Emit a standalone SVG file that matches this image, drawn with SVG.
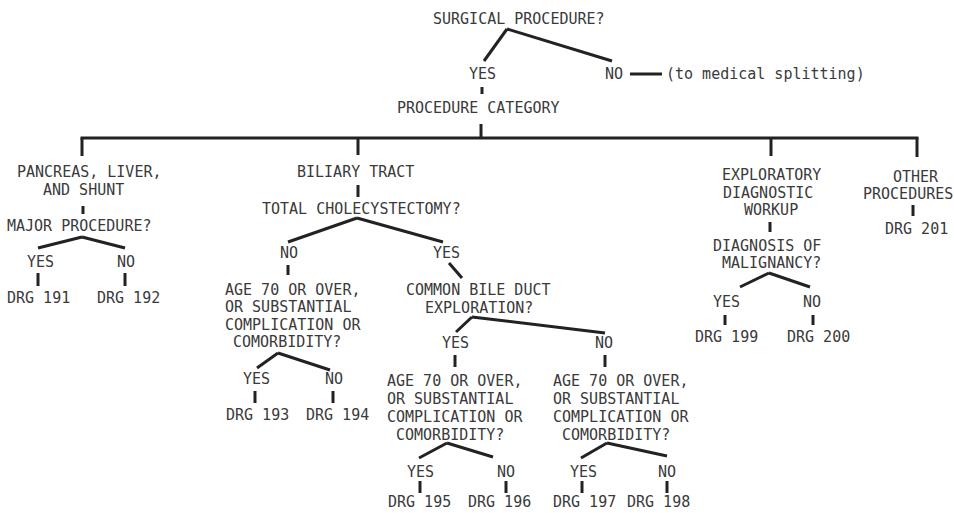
<svg xmlns="http://www.w3.org/2000/svg" width="954" height="513" viewBox="0 0 954 513">
<style>
text{font-family:"DejaVu Sans Mono","Liberation Mono",monospace;font-size:15px;fill:#3a3a3a}
.c line{stroke:#222;stroke-width:3;stroke-linecap:butt}
</style>
<rect width="954" height="513" fill="#fff"/>
<g class="c" id="connectors">
<line x1="507" y1="29" x2="484" y2="61"/>
<line x1="507" y1="29" x2="612" y2="61"/>
<line x1="482" y1="87" x2="482" y2="94"/>
<line x1="630" y1="74" x2="662" y2="74"/>
<line x1="481" y1="124" x2="481" y2="138"/>
<line x1="80.5" y1="138" x2="918.5" y2="138"/>
<line x1="82" y1="138" x2="82" y2="156"/>
<line x1="358" y1="138" x2="358" y2="155"/>
<line x1="771" y1="138" x2="771" y2="156"/>
<line x1="917" y1="138" x2="917" y2="157"/>
<line x1="83" y1="206" x2="83" y2="214"/>
<line x1="82" y1="237" x2="38" y2="248"/>
<line x1="82" y1="237" x2="125" y2="248"/>
<line x1="38" y1="273" x2="38" y2="286"/>
<line x1="125" y1="273" x2="125" y2="286"/>
<line x1="358" y1="185" x2="358" y2="197"/>
<line x1="357" y1="218" x2="288" y2="242"/>
<line x1="357" y1="218" x2="443" y2="242"/>
<line x1="288" y1="265" x2="288" y2="275"/>
<line x1="449" y1="263" x2="462" y2="278"/>
<line x1="278" y1="353" x2="257" y2="368"/>
<line x1="278" y1="353" x2="330" y2="370"/>
<line x1="255" y1="391" x2="255" y2="403"/>
<line x1="333" y1="391" x2="333" y2="403"/>
<line x1="472" y1="317" x2="456" y2="332"/>
<line x1="472" y1="317" x2="605" y2="333"/>
<line x1="455" y1="355" x2="455" y2="367"/>
<line x1="605" y1="355" x2="605" y2="367"/>
<line x1="447" y1="443" x2="419" y2="458"/>
<line x1="447" y1="443" x2="493" y2="457"/>
<line x1="607" y1="443" x2="581" y2="458"/>
<line x1="607" y1="443" x2="667" y2="456"/>
<line x1="420" y1="481" x2="420" y2="493"/>
<line x1="506" y1="481" x2="506" y2="493"/>
<line x1="582" y1="481" x2="582" y2="493"/>
<line x1="667" y1="481" x2="667" y2="493"/>
<line x1="770" y1="222" x2="770" y2="232"/>
<line x1="769" y1="273" x2="740" y2="287"/>
<line x1="769" y1="273" x2="810" y2="287"/>
<line x1="725" y1="315" x2="725" y2="325"/>
<line x1="813" y1="315" x2="813" y2="325"/>
<line x1="913" y1="205" x2="913" y2="216"/>
</g>
<g id="surgical"><text x="433" y="24">SURGICAL PROCEDURE?</text></g>
<g id="yes-top"><text x="469" y="79">YES</text></g>
<g id="no-top"><text x="605" y="79">NO</text></g>
<g id="medical"><text x="666" y="79">(to medical splitting)</text></g>
<g id="category"><text x="397" y="113">PROCEDURE CATEGORY</text></g>
<g id="pancreas"><text x="17" y="177">PANCREAS, LIVER,</text><text x="43" y="195">AND SHUNT</text></g>
<g id="major"><text x="7" y="231">MAJOR PROCEDURE?</text></g>
<g id="major-yes"><text x="27" y="267">YES</text></g>
<g id="major-no"><text x="117" y="267">NO</text></g>
<g id="drg191"><text x="7" y="303">DRG 191</text></g>
<g id="drg192"><text x="97" y="303">DRG 192</text></g>
<g id="biliary"><text x="297" y="177">BILIARY TRACT</text></g>
<g id="chole"><text x="262" y="214">TOTAL CHOLECYSTECTOMY?</text></g>
<g id="chole-no"><text x="280" y="258">NO</text></g>
<g id="chole-yes"><text x="433" y="258">YES</text></g>
<g id="age1"><text x="225" y="295">AGE 70 OR OVER,</text><text x="225" y="312">OR SUBSTANTIAL</text><text x="225" y="330">COMPLICATION OR</text><text x="233" y="347">COMORBIDITY?</text></g>
<g id="age1-yes"><text x="243" y="384">YES</text></g>
<g id="age1-no"><text x="325" y="384">NO</text></g>
<g id="drg193"><text x="226" y="420">DRG 193</text></g>
<g id="drg194"><text x="306" y="420">DRG 194</text></g>
<g id="cbd"><text x="406" y="295">COMMON BILE DUCT</text><text x="425" y="313">EXPLORATION?</text></g>
<g id="cbd-yes"><text x="442" y="348">YES</text></g>
<g id="cbd-no"><text x="595" y="348">NO</text></g>
<g id="age2"><text x="387" y="386">AGE 70 OR OVER,</text><text x="387" y="404">OR SUBSTANTIAL</text><text x="387" y="422">COMPLICATION OR</text><text x="396" y="440">COMORBIDITY?</text></g>
<g id="age3"><text x="553" y="386">AGE 70 OR OVER,</text><text x="553" y="404">OR SUBSTANTIAL</text><text x="553" y="422">COMPLICATION OR</text><text x="562" y="440">COMORBIDITY?</text></g>
<g id="age2-yes"><text x="407" y="477">YES</text></g>
<g id="age2-no"><text x="497" y="477">NO</text></g>
<g id="age3-yes"><text x="570" y="477">YES</text></g>
<g id="age3-no"><text x="658" y="477">NO</text></g>
<g id="drg195"><text x="388" y="507">DRG 195</text></g>
<g id="drg196"><text x="468" y="507">DRG 196</text></g>
<g id="drg197"><text x="553" y="507">DRG 197</text></g>
<g id="drg198"><text x="627" y="507">DRG 198</text></g>
<g id="exploratory"><text x="722" y="180">EXPLORATORY</text><text x="723" y="198">DIAGNOSTIC</text><text x="744" y="215">WORKUP</text></g>
<g id="malignancy"><text x="713" y="251">DIAGNOSIS OF</text><text x="722" y="268">MALIGNANCY?</text></g>
<g id="mal-yes"><text x="713" y="307">YES</text></g>
<g id="mal-no"><text x="803" y="307">NO</text></g>
<g id="drg199"><text x="695" y="342">DRG 199</text></g>
<g id="drg200"><text x="787" y="342">DRG 200</text></g>
<g id="other"><text x="893" y="182">OTHER</text><text x="863" y="199">PROCEDURES</text></g>
<g id="drg201"><text x="885" y="234">DRG 201</text></g>
</svg>
